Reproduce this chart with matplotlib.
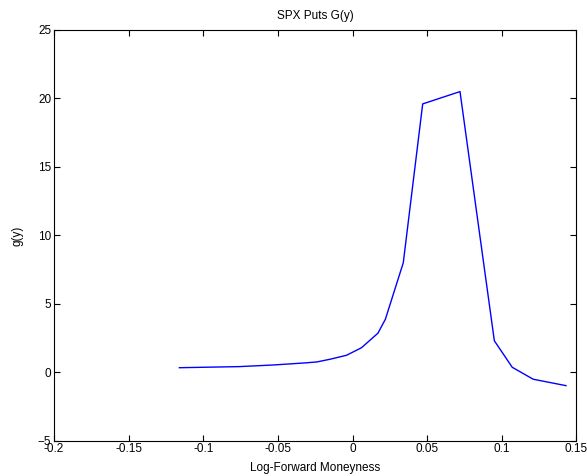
import matplotlib
matplotlib.use("Agg")
import matplotlib.pyplot as plt

# log-forward moneyness grid and estimated g(y) for SPX puts
moneyness = [-0.116, -0.076, -0.053, -0.032, -0.024, -0.015, -0.004, 0.006,
             0.017, 0.022, 0.034, 0.047, 0.072, 0.095, 0.107, 0.121, 0.143]
g_values = [0.33, 0.41, 0.53, 0.68, 0.75, 0.95, 1.24, 1.79,
            2.85, 3.87, 8.0, 19.6, 20.5, 2.30, 0.36, -0.51, -0.98]

X_TICKS = [-0.2, -0.15, -0.1, -0.05, 0, 0.05, 0.1, 0.15]
X_LABELS = ["-0.2", "-0.15", "-0.1", "-0.05", "0", "0.05", "0.1", "0.15"]
Y_TICKS = [-5, 0, 5, 10, 15, 20, 25]


def main():
    plt.rcParams["font.family"] = ["Liberation Sans", "DejaVu Sans"]
    fig = plt.figure(figsize=(5.87, 4.76), dpi=100)
    ax = fig.add_axes([0.092, 0.0742, 0.890, 0.8628])

    ax.plot(moneyness, g_values, color="#0000ff", linewidth=1.0)

    ax.set_xlim(-0.2, 0.15)
    ax.set_ylim(-5, 25)
    ax.set_xticks(X_TICKS)
    ax.set_xticklabels(X_LABELS)
    ax.set_yticks(Y_TICKS)
    ax.tick_params(direction="in", top=True, right=True, labelsize=8.5,
                   length=4, width=0.8, pad=2)
    for spine in ax.spines.values():
        spine.set_linewidth(0.8)

    ax.set_title("SPX Puts G(y)", fontsize=8.5, pad=8)
    ax.set_xlabel("Log-Forward Moneyness", fontsize=8.5, labelpad=5)
    ax.set_ylabel("g(y)", fontsize=8.5, labelpad=10)

    fig.savefig("out.png", dpi=100)


if __name__ == "__main__":
    main()
